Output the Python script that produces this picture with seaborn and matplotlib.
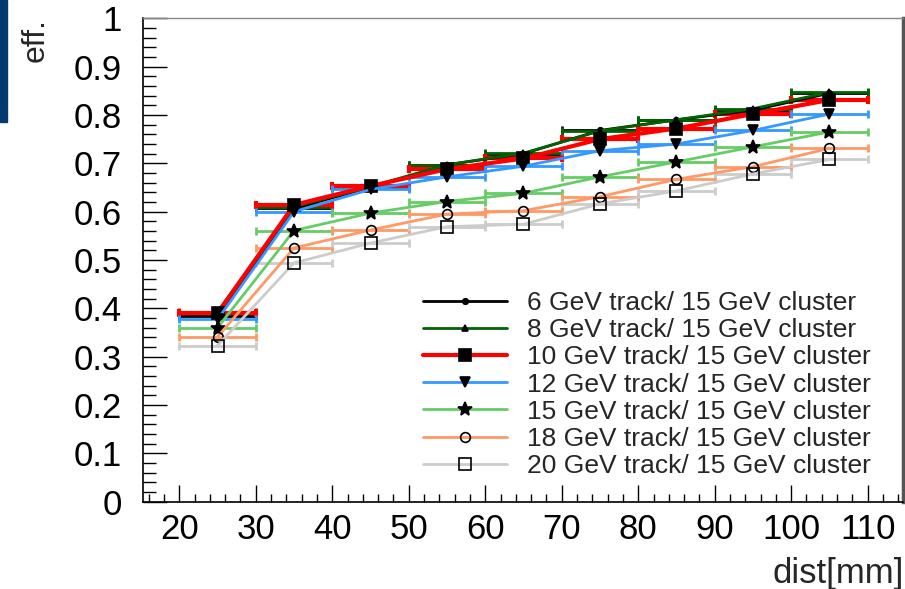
import matplotlib
matplotlib.use("Agg")
import matplotlib.pyplot as plt
import matplotlib.patches as mpatches
from matplotlib.ticker import MultipleLocator
import seaborn as sns
import pandas as pd

# ---- data ----
dist = [25, 35, 45, 55, 65, 75, 85, 95, 105]
half_bin = 5
labels = [
    "6 GeV track/ 15 GeV cluster",
    "8 GeV track/ 15 GeV cluster",
    "10 GeV track/ 15 GeV cluster",
    "12 GeV track/ 15 GeV cluster",
    "15 GeV track/ 15 GeV cluster",
    "18 GeV track/ 15 GeV cluster",
    "20 GeV track/ 15 GeV cluster",
]
eff_6 = [0.385, 0.607, 0.650, 0.697, 0.720, 0.768, 0.790, 0.810, 0.845]
eff_8 = [0.393, 0.610, 0.652, 0.697, 0.721, 0.767, 0.790, 0.813, 0.847]
eff_10 = [0.390, 0.614, 0.653, 0.688, 0.710, 0.750, 0.772, 0.802, 0.831]
eff_12 = [0.377, 0.600, 0.646, 0.672, 0.694, 0.726, 0.740, 0.768, 0.802]
eff_15 = [0.360, 0.561, 0.597, 0.621, 0.638, 0.672, 0.703, 0.734, 0.765]
eff_18 = [0.341, 0.525, 0.562, 0.595, 0.602, 0.631, 0.667, 0.693, 0.731]
eff_20 = [0.323, 0.494, 0.535, 0.569, 0.574, 0.616, 0.643, 0.678, 0.708]
series = [eff_6, eff_8, eff_10, eff_12, eff_15, eff_18, eff_20]
x_ticks = [20, 30, 40, 50, 60, 70, 80, 90, 100, 110]

colors = ["#000000", "#006400", "#ff0000", "#3399ff", "#66cc66", "#ff9966", "#cccccc"]
markers = ["o", "^", "s", "v", "*", "o", "s"]
msizes = [4, 4, 8, 7, 10, 7, 9]
mfaces = ["black", "black", "black", "black", "black", "none", "none"]
lwidths = [2, 2, 3, 2, 2, 2, 2]

sns.set_style("white")
plt.rcParams["font.family"] = ["Liberation Sans", "DejaVu Sans"]

fig = plt.figure(figsize=(9.05, 5.89), dpi=100)
ax = fig.add_axes([142.7 / 905, 1 - 501.7 / 589, (902.7 - 142.7) / 905, (501.7 - 18.3) / 589])

handles = []
for lab, vals, c, m, ms, mf, lw in zip(labels, series, colors, markers, msizes, mfaces, lwidths):
    df = pd.DataFrame({"dist": dist, "eff": vals})
    ax.errorbar(df["dist"], df["eff"], xerr=half_bin, fmt="none", ecolor=c,
                elinewidth=lw, capsize=3, capthick=lw, zorder=2)
    sns.lineplot(data=df, x="dist", y="eff", ax=ax, color=c, linewidth=lw,
                 marker=m, markersize=ms, markerfacecolor=mf, markeredgecolor="black",
                 markeredgewidth=1.2, label=lab, zorder=3, legend=False)
    handles.append(ax.lines[-1])

ax.set_xlim(15.215, 114.58)
ax.set_ylim(0, 1.0)
ax.xaxis.set_minor_locator(MultipleLocator(2))
ax.yaxis.set_minor_locator(MultipleLocator(0.02))
ax.set_xticks(x_ticks)
ax.set_xticklabels([str(v) for v in x_ticks])
ax.set_yticks([i / 10 for i in range(11)])
ax.set_yticklabels(["0"] + [f"0.{i}" for i in range(1, 10)] + ["1"])

ax.tick_params(axis="both", which="both", direction="in", colors="black",
               labelsize=25, top=False, right=False, bottom=True, left=True)
ax.tick_params(axis="y", which="major", length=17, width=1, pad=15)
ax.tick_params(axis="y", which="minor", length=9, width=1)
ax.tick_params(axis="x", which="major", length=12, width=1, pad=8)
ax.tick_params(axis="x", which="minor", length=6, width=1)

ax.set_xlabel("")
ax.set_ylabel("")
for s in ["left", "bottom"]:
    ax.spines[s].set_color("black")
    ax.spines[s].set_linewidth(1.2)
ax.spines["top"].set_color("#888888")
ax.spines["top"].set_linewidth(1.0)
ax.spines["right"].set_color("#555555")
ax.spines["right"].set_linewidth(2.5)

fig.text(36 / 905, 1 - 18 / 589, "eff.", rotation=90, ha="center", va="top", fontsize=23)
fig.text(904 / 905, 1 - 574 / 589, "dist[mm]", ha="right", va="center", fontsize=25)

# blue bar at the left edge
fig.patches.append(mpatches.Rectangle((0, 1 - 122 / 589), 7 / 905, 122 / 589,
                                      transform=fig.transFigure, color="#003a70", zorder=5))

leg = ax.legend(handles=handles, labels=labels, loc="upper left",
                bbox_to_anchor=(423 / 905, 1 - 291 / 589), bbox_transform=fig.transFigure,
                frameon=False, fontsize=19, handlelength=3.2, handletextpad=0.75,
                labelspacing=0.12, borderpad=0, borderaxespad=0, numpoints=1)

fig.savefig("out.png", dpi=100)
